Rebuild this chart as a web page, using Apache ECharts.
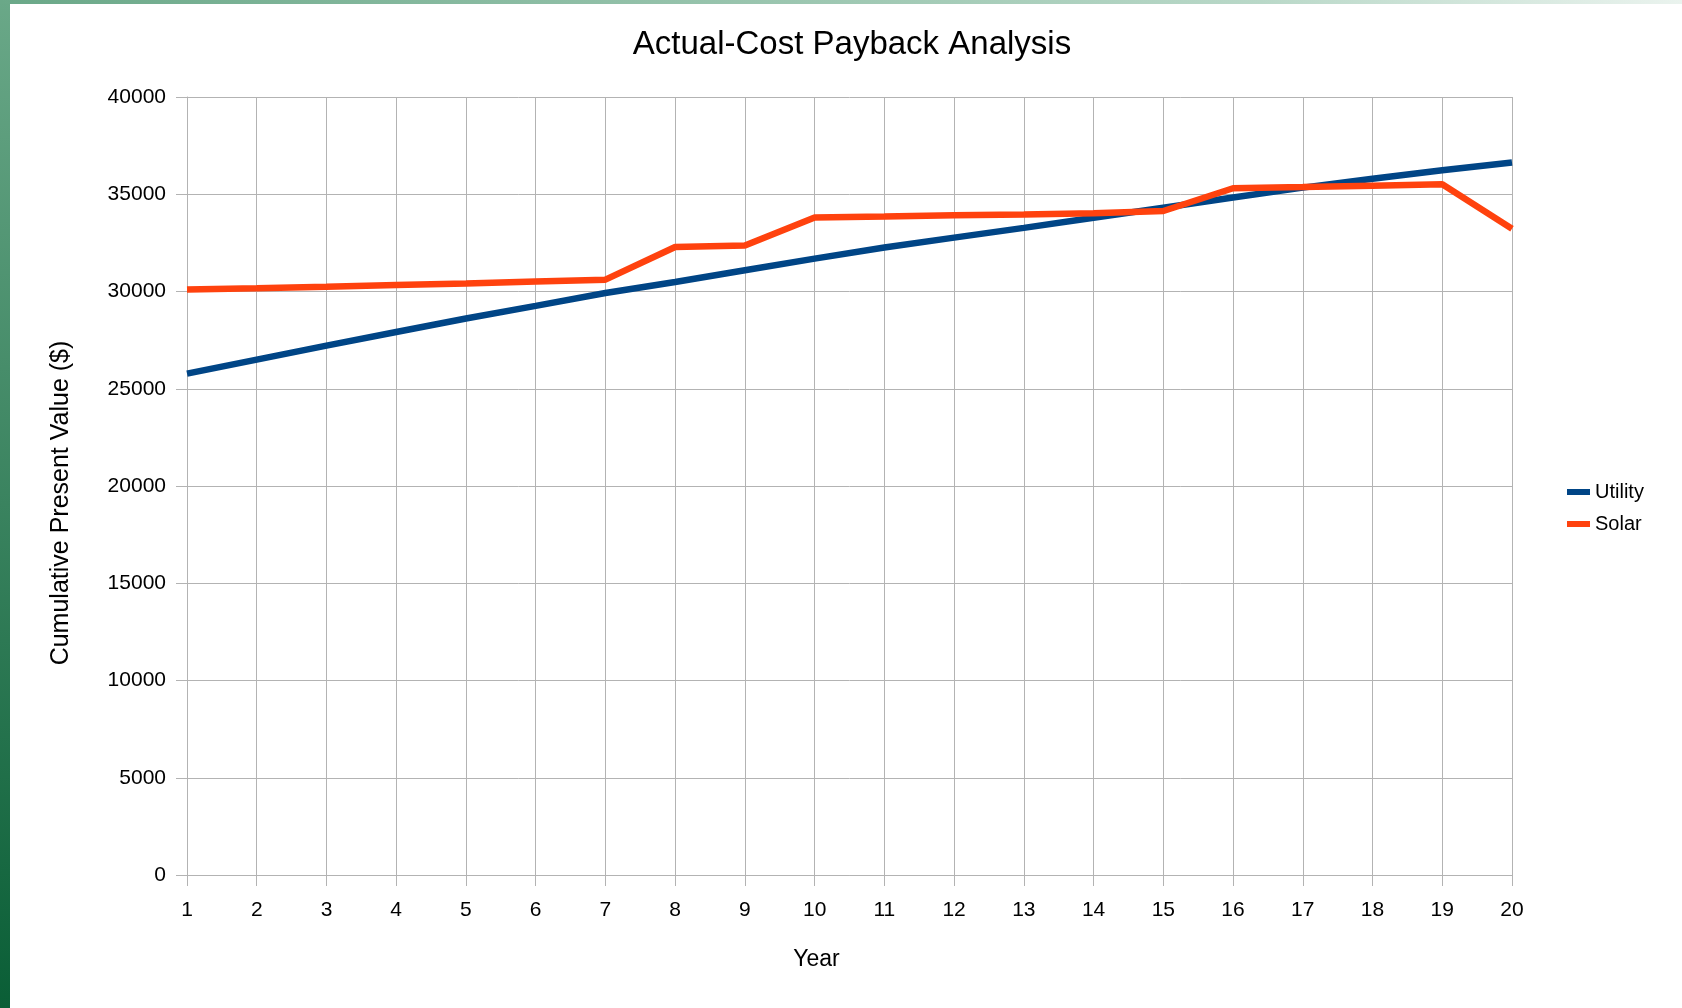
<!DOCTYPE html>
<html>
<head>
<meta charset="utf-8">
<script src="https://cdn.jsdelivr.net/npm/echarts@6/dist/echarts.min.js"></script>
<style>
html,body{margin:0;padding:0;background:#fff;}
#chart{width:1682px;height:1008px;}
</style>
</head>
<body>
<div id="chart"></div>
<script>
const years = ['1','2','3','4','5','6','7','8','9','10','11','12','13','14','15','16','17','18','19','20'];
const utility = [25780, 26500, 27220, 27920, 28610, 29260, 29920, 30490, 31090, 31690, 32260, 32770, 33270, 33790, 34310, 34830, 35340, 35800, 36230, 36630];
const solar = [30100, 30170, 30250, 30340, 30410, 30510, 30610, 32290, 32360, 33800, 33850, 33920, 33960, 34020, 34140, 35310, 35370, 35440, 35510, 33230];
const titleText = 'Actual-Cost Payback Analysis';
const xName = 'Year';
const yName = 'Cumulative Present Value ($)';

const FONT = '"Liberation Sans", Arial, sans-serif';
const chart = echarts.init(document.getElementById('chart'));
chart.setOption({
  backgroundColor: '#ffffff',
  animation: false,
  textStyle: { fontFamily: FONT, color: '#000' },
  title: {
    text: titleText,
    left: 847, top: 23, textAlign: 'center',
    textStyle: { fontFamily: FONT, fontSize: 33, fontWeight: 'normal', color: '#000' }
  },
  legend: {
    orient: 'vertical', left: 1562, top: 477,
    itemWidth: 23, itemHeight: 6, itemGap: 12,
    icon: 'rect',
    textStyle: { fontFamily: FONT, fontSize: 20, color: '#000' },
    data: ['Utility', 'Solar']
  },
  graphic: [
    { type: 'rect', left: 0, top: 0, z: 100, shape: { width: 10, height: 1008 },
      style: { fill: new echarts.graphic.LinearGradient(0, 0, 0, 1, [
        { offset: 0, color: '#6aa888' }, { offset: 1, color: '#0a5e36' }]) } },
    { type: 'rect', left: 0, top: 0, z: 100, shape: { width: 1682, height: 4 },
      style: { fill: new echarts.graphic.LinearGradient(0, 0, 1, 0, [
        { offset: 0, color: '#6aa888' }, { offset: 0.75, color: '#b9d8c8' }, { offset: 1, color: '#eaf3ee' }]) } }
  ],
  grid: { left: 187, top: 97, width: 1325, height: 778, containLabel: false },
  xAxis: {
    type: 'category', data: years, boundaryGap: false,
    name: xName, nameLocation: 'middle', nameGap: 73,
    nameTextStyle: { fontFamily: FONT, fontSize: 23, color: '#000', padding: [0, 66, 0, 0] },
    axisLine: { show: true, lineStyle: { color: '#b3b3b3', width: 1 } },
    axisTick: { show: true, length: 11, lineStyle: { color: '#b3b3b3' } },
    axisLabel: { fontFamily: FONT, fontSize: 21, color: '#000', margin: 25 },
    splitLine: { show: true, lineStyle: { color: '#b3b3b3', width: 1 } }
  },
  yAxis: {
    type: 'value', min: 0, max: 40000, interval: 5000,
    name: yName, nameLocation: 'middle', nameGap: 113, nameRotate: 90,
    nameTextStyle: { fontFamily: FONT, fontSize: 25, color: '#000', padding: [0, 34, 0, 0] },
    axisLine: { show: true, lineStyle: { color: '#b3b3b3', width: 1 } },
    axisTick: { show: true, length: 11, lineStyle: { color: '#b3b3b3' } },
    axisLabel: { fontFamily: FONT, fontSize: 21, color: '#000', margin: 21, formatter: function (v) { return String(v); } },
    splitLine: { show: true, lineStyle: { color: '#b3b3b3', width: 1 } }
  },
  series: [
    { name: 'Utility', type: 'line', data: utility, showSymbol: false, symbol: 'none',
      lineStyle: { color: '#004586', width: 6.5 }, itemStyle: { color: '#004586' } },
    { name: 'Solar', type: 'line', data: solar, showSymbol: false, symbol: 'none',
      lineStyle: { color: '#ff420e', width: 6.5 }, itemStyle: { color: '#ff420e' } }
  ]
});
</script>
</body>
</html>
